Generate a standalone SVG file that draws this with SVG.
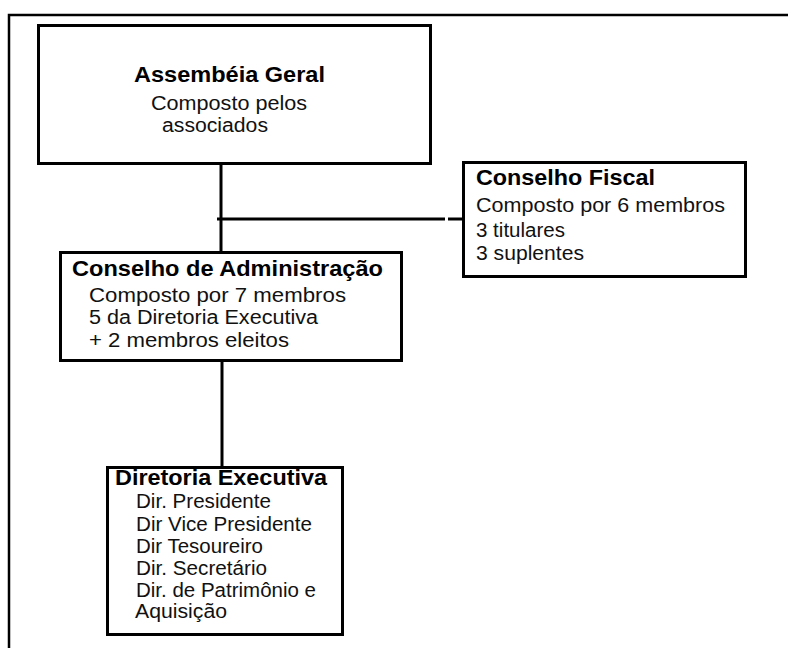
<svg xmlns="http://www.w3.org/2000/svg" width="788" height="648" viewBox="0 0 788 648">
<style>
.box{fill:none;stroke:#000;stroke-width:3}
.ln{stroke:#000;stroke-width:3;fill:none}
.frame{stroke:#000;stroke-width:2.5;fill:none}
.t{font-family:"Liberation Sans",Arial,sans-serif;font-size:21.5px;font-weight:bold;fill:#000}
.s{font-family:"Liberation Sans",Arial,sans-serif;font-size:19.5px;fill:#111}
</style>
<rect width="788" height="648" fill="#fff"/>
<path class="frame" d="M9,648 V15 H788"/>
<g id="connectors">
<path class="ln" d="M221,164 V252"/>
<path class="ln" d="M217,219 H445"/>
<path class="ln" d="M448,219 H463"/>
<path class="ln" d="M222,361 V468"/>
</g>
<g id="assembleia">
<rect class="box" x="38.5" y="25.5" width="392" height="138"/>
<text class="t" x="134" y="82" textLength="191" lengthAdjust="spacingAndGlyphs">Assembéia Geral</text>
<text class="s" x="151" y="110" textLength="156" lengthAdjust="spacingAndGlyphs">Composto pelos</text>
<text class="s" x="162" y="132" textLength="106" lengthAdjust="spacingAndGlyphs">associados</text>
</g>
<g id="conselho-fiscal">
<rect class="box" x="463.5" y="162.5" width="282" height="114"/>
<text class="t" x="476" y="185" textLength="179" lengthAdjust="spacingAndGlyphs">Conselho Fiscal</text>
<text class="s" x="476" y="212" textLength="249" lengthAdjust="spacingAndGlyphs">Composto por 6 membros</text>
<text class="s" x="476" y="237" textLength="89" lengthAdjust="spacingAndGlyphs">3 titulares</text>
<text class="s" x="476" y="260" textLength="108" lengthAdjust="spacingAndGlyphs">3 suplentes</text>
</g>
<g id="conselho-administracao">
<rect class="box" x="60.5" y="252.5" width="341" height="108"/>
<text class="t" x="72" y="276" textLength="311" lengthAdjust="spacingAndGlyphs">Conselho de Administração</text>
<text class="s" x="89" y="302" textLength="257" lengthAdjust="spacingAndGlyphs">Composto por 7 membros</text>
<text class="s" x="89" y="324" textLength="229" lengthAdjust="spacingAndGlyphs">5 da Diretoria Executiva</text>
<text class="s" x="89" y="347" textLength="200" lengthAdjust="spacingAndGlyphs">+ 2 membros eleitos</text>
</g>
<g id="diretoria-executiva">
<text class="t" x="115" y="485" textLength="212" lengthAdjust="spacingAndGlyphs">Diretoria Executiva</text>
<text class="s" x="136" y="508" textLength="135" lengthAdjust="spacingAndGlyphs">Dir. Presidente</text>
<text class="s" x="136" y="531" textLength="176" lengthAdjust="spacingAndGlyphs">Dir Vice Presidente</text>
<text class="s" x="136" y="553" textLength="127" lengthAdjust="spacingAndGlyphs">Dir Tesoureiro</text>
<text class="s" x="136" y="575" textLength="131" lengthAdjust="spacingAndGlyphs">Dir. Secretário</text>
<text class="s" x="136" y="597" textLength="180" lengthAdjust="spacingAndGlyphs">Dir. de Patrimônio e</text>
<text class="s" x="135" y="618" textLength="92" lengthAdjust="spacingAndGlyphs">Aquisição</text>
<rect class="box" x="107.5" y="467.5" width="235" height="167"/>
</g>
</svg>
